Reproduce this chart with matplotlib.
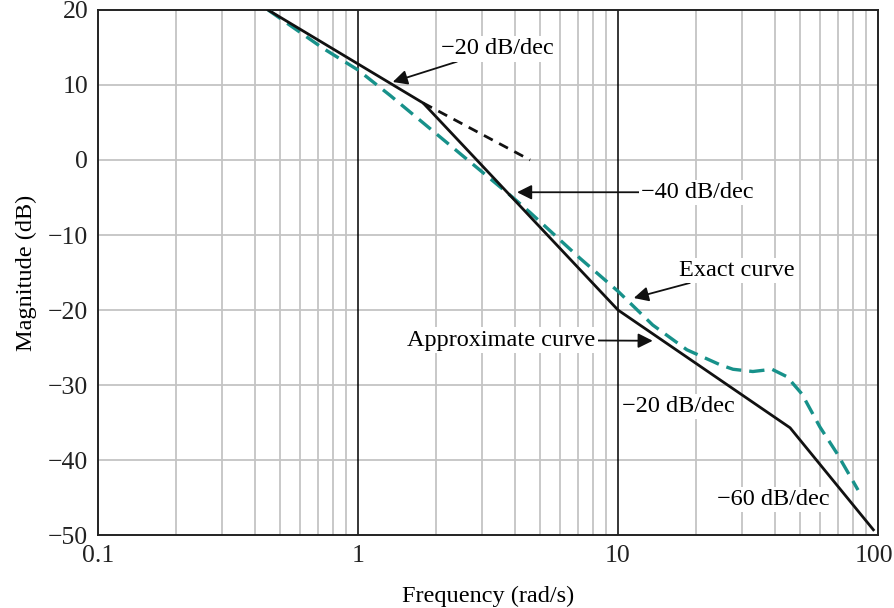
import matplotlib
matplotlib.use("Agg")
import matplotlib.pyplot as plt
import matplotlib.transforms as mtransforms
from matplotlib.ticker import FixedLocator, NullFormatter

# asymptotic (approximate) Bode magnitude
approx_w = [0.451, 1.78, 10.0, 45.9, 96.0]
approx_db = [20.0, 7.6, -20.0, -35.7, -49.3]

# -20 dB/dec extension past the first break
ext_w = [1.78, 4.59]
ext_db = [7.6, 0.0]

# exact curve
exact_w = [0.451, 0.733, 1.0, 1.33, 2.2, 3.94, 4.59, 7.14, 10.0, 13.6, 18.4,
           24.7, 27.7, 33.0, 39.1, 44.7, 51.0, 59.8, 69.5, 83.8]
exact_db = [20.0, 14.9, 12.0, 8.6, 2.3, -5.0, -7.0, -13.1, -17.5, -22.0, -25.3,
            -27.3, -27.9, -28.2, -27.9, -28.9, -31.2, -35.6, -39.1, -44.0]

xticks = [0.1, 1, 10, 100]
xtick_labels = ["0.1", "1", "10", "100"]
yticks = [20, 10, 0, -10, -20, -30, -40, -50]

TEAL = "#17918a"
GRID = "#c4c4c4"

plt.rcParams.update({"font.family": "Liberation Serif", "font.size": 17.5,
                     "axes.unicode_minus": True})

fig = plt.figure(figsize=(8.95, 6.08), dpi=100)
ax = fig.add_axes([0.1095, 0.12, 0.8715, 0.8636])

ax.set_xscale("log")
ax.set_xlim(0.1, 100)
ax.set_ylim(-50, 20)

# grid: light grey minors, black decade lines at 1 and 10
minors = [m * d for d in (0.1, 1, 10) for m in range(2, 10)]
for x in minors:
    ax.axvline(x, color=GRID, lw=1.3, zorder=0)
for y in yticks[1:-1]:
    ax.axhline(y, color=GRID, lw=1.3, zorder=0)
for x in (1, 10):
    ax.axvline(x, color="black", lw=1.1, zorder=1)

ax.plot(exact_w, exact_db, color=TEAL, lw=2.4, ls=(0, (4.6, 2.4)), zorder=3)
ax.plot(approx_w, approx_db, color="#111111", lw=2.0, zorder=4)
ax.plot(ext_w, ext_db, color="#111111", lw=2.0, ls=(0, (3.6, 2.6)), zorder=4)

ax.xaxis.set_major_locator(FixedLocator(xticks))
ax.xaxis.set_minor_formatter(NullFormatter())
ax.set_xticks(xticks, xtick_labels)
ax.set_yticks(yticks)
ax.tick_params(which="both", length=0, pad=7, labelcolor="#222222", labelsize=18.5)
for s in ax.spines.values():
    s.set_linewidth(1.4)
    s.set_color("#222222")

# keep "100" inside the canvas
lab = ax.get_xticklabels()[-1]
lab.set_transform(lab.get_transform() + mtransforms.ScaledTranslation(-4 / 100, 0, fig.dpi_scale_trans))

ax.set_xlabel("Frequency (rad/s)", labelpad=14)
ax.set_ylabel("Magnitude (dB)", labelpad=8)

box = dict(facecolor="white", edgecolor="none", pad=1.5)
arrow = dict(arrowstyle="-|>", color="#111111", lw=1.3,
             mutation_scale=22, shrinkA=0, shrinkB=0)

ax.annotate("\u221220 dB/dec", xy=(1.36, 10.4), xytext=(2.08, 14.8),
            ha="left", va="center", bbox=box, arrowprops=arrow, zorder=6)
ax.annotate("\u221240 dB/dec", xy=(4.09, -4.3), xytext=(12.3, -4.3),
            ha="left", va="center", bbox=box, arrowprops=arrow, zorder=6)
ax.annotate("Exact curve", xy=(11.5, -18.4), xytext=(17.2, -14.7),
            ha="left", va="center", bbox=box, arrowprops=arrow, zorder=6)
ax.annotate("Approximate curve", xy=(13.6, -24.1), xytext=(8.2, -24.0),
            ha="right", va="center", bbox=box, arrowprops=arrow, zorder=6)
ax.text(10.4, -32.9, "\u221220 dB/dec", ha="left", va="center", bbox=box, zorder=6)
ax.text(24.0, -45.3, "\u221260 dB/dec", ha="left", va="center", bbox=box, zorder=2)

fig.savefig("out.png", dpi=100)
